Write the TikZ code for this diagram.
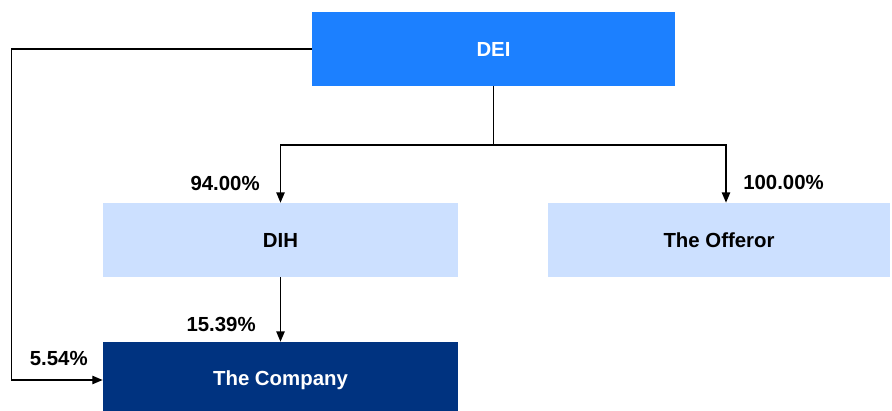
\documentclass[tikz,border=0pt]{standalone}
\usepackage{fontspec}
\setmainfont{Liberation Sans}
\usepackage{xcolor}
\usetikzlibrary{arrows.meta}
\definecolor{deiblue}{HTML}{1C80FF}
\definecolor{paleblue}{HTML}{CCE0FF}
\definecolor{navy}{HTML}{003380}
\begin{document}
\begin{tikzpicture}[x=0.025cm,y=-0.025cm]
\tikzset{
box/.style={inner sep=0pt,minimum height=1.85cm,font=\fontsize{14.5}{16}\selectfont\bfseries},
pct/.style={inner sep=0pt,font=\fontsize{14.5}{16}\selectfont\bfseries},
arr/.style={line width=1pt,-{Triangle[length=2.6mm,width=2.1mm]}}
}
\useasboundingbox (0,0) rectangle (892,411);
\node[box,fill=deiblue,text=white,minimum width=9.075cm] (dei) at (493.5,49) {DEI};
\node[box,fill=paleblue,minimum width=8.875cm] (dih) at (280.5,240) {DIH};
\node[box,fill=paleblue,minimum width=8.55cm] (offeror) at (719,240) {The Offeror};
\node[box,fill=navy,text=white,minimum width=8.875cm,minimum height=1.9cm] (company) at (280.5,380) {The Company};
\coordinate (split) at (493.5,145);
\coordinate (corner) at (11.5,49);

\draw[line width=1pt] (dei.south) -- (split);
\draw[arr] (split) -| (dih.north);
\draw[arr] (split) -| ([xshift=0.175cm]offeror.north);
\draw[arr] (dih.south) -- (company.north);
\draw[arr] (dei.west) -- (corner) |- (company.west);
% percentages
\node[pct,anchor=east] (p94) at (260,183) {94.00\%};
\node[pct,anchor=west] (p100) at (743,182) {100.00\%};
\node[pct,anchor=east] (p1539) at (256,324) {15.39\%};
\node[pct,anchor=east] (p554) at (88,359) {5.54\%};
\end{tikzpicture}
\end{document}
